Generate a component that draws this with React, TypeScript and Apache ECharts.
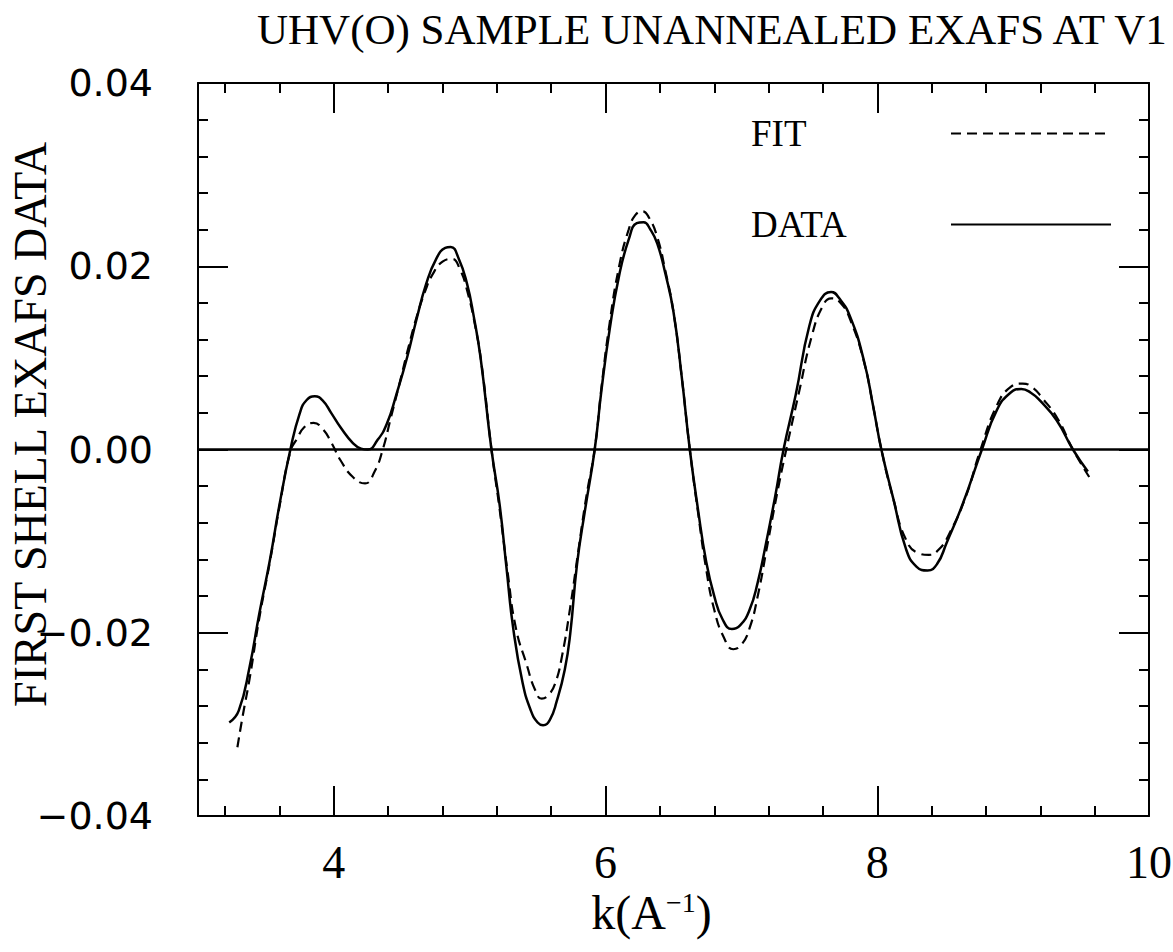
import React, { useEffect, useRef } from "react";
import * as echarts from "echarts";

// ---- data ----
const K_DATA = [3.23, 3.30, 3.38, 3.45, 3.53, 3.60, 3.68, 3.75, 3.80, 3.86, 3.92, 3.98, 4.05, 4.14, 4.20, 4.25, 4.32, 4.39, 4.46, 4.54, 4.61, 4.68, 4.75, 4.82, 4.86, 4.92, 4.98, 5.03, 5.08, 5.16, 5.22, 5.27, 5.32, 5.39, 5.45, 5.50, 5.54, 5.59, 5.64, 5.70, 5.74, 5.79, 5.85, 5.92, 5.97, 6.03, 6.10, 6.17, 6.23, 6.28, 6.33, 6.38, 6.44, 6.50, 6.56, 6.62, 6.68, 6.74, 6.80, 6.86, 6.93, 6.99, 7.06, 7.12, 7.18, 7.25, 7.31, 7.40, 7.50, 7.58, 7.66, 7.72, 7.80, 7.90, 7.97, 8.03, 8.12, 8.21, 8.29, 8.37, 8.44, 8.51, 8.63, 8.77, 8.88, 8.98, 9.06, 9.13, 9.20, 9.32, 9.44, 9.55];
const V_DATA = [-0.0298, -0.0285, -0.0237, -0.0180, -0.0120, -0.0060, 0.0000, 0.0040, 0.0054, 0.0058, 0.0053, 0.0040, 0.0024, 0.0007, 0.0001, 0.0000, 0.0010, 0.0028, 0.0060, 0.0101, 0.0143, 0.0181, 0.0207, 0.0220, 0.0221, 0.0208, 0.0181, 0.0145, 0.0100, 0.0000, -0.0060, -0.0128, -0.0195, -0.0255, -0.0285, -0.0298, -0.0301, -0.0295, -0.0275, -0.0240, -0.0201, -0.0125, -0.0065, 0.0000, 0.0065, 0.0131, 0.0190, 0.0229, 0.0247, 0.0248, 0.0240, 0.0225, 0.0192, 0.0150, 0.0080, 0.0000, -0.0065, -0.0122, -0.0160, -0.0185, -0.0196, -0.0192, -0.0175, -0.0145, -0.0103, -0.0050, 0.0000, 0.0060, 0.0135, 0.0163, 0.0172, 0.0165, 0.0145, 0.0098, 0.0047, 0.0000, -0.0055, -0.0108, -0.0128, -0.0132, -0.0125, -0.0102, -0.0059, 0.0000, 0.0043, 0.0062, 0.0066, 0.0062, 0.0053, 0.0032, 0.0000, -0.0024];

const K_FIT = [3.29, 3.33, 3.38, 3.45, 3.53, 3.60, 3.68, 3.73, 3.78, 3.85, 3.92, 3.98, 4.05, 4.14, 4.23, 4.30, 4.36, 4.42, 4.49, 4.55, 4.61, 4.67, 4.73, 4.80, 4.87, 4.93, 4.98, 5.04, 5.09, 5.16, 5.22, 5.28, 5.34, 5.42, 5.48, 5.53, 5.58, 5.63, 5.68, 5.74, 5.80, 5.86, 5.92, 5.97, 6.03, 6.10, 6.17, 6.22, 6.27, 6.32, 6.38, 6.44, 6.50, 6.56, 6.62, 6.68, 6.74, 6.80, 6.87, 6.94, 7.00, 7.06, 7.12, 7.19, 7.26, 7.33, 7.42, 7.52, 7.60, 7.66, 7.73, 7.80, 7.90, 7.97, 8.03, 8.12, 8.21, 8.30, 8.38, 8.46, 8.53, 8.65, 8.76, 8.88, 8.98, 9.07, 9.14, 9.21, 9.33, 9.44, 9.56];
const V_FIT = [-0.0325, -0.0290, -0.0250, -0.0185, -0.0122, -0.0062, -0.0002, 0.0012, 0.0024, 0.0029, 0.0022, 0.0008, -0.0012, -0.0030, -0.0037, -0.0024, 0.0000, 0.0035, 0.0076, 0.0112, 0.0145, 0.0172, 0.0192, 0.0205, 0.0208, 0.0196, 0.0174, 0.0135, 0.0090, 0.0000, -0.0065, -0.0135, -0.0195, -0.0235, -0.0262, -0.0272, -0.0268, -0.0255, -0.0225, -0.0172, -0.0110, -0.0050, 0.0000, 0.0068, 0.0138, 0.0200, 0.0240, 0.0256, 0.0260, 0.0253, 0.0232, 0.0195, 0.0150, 0.0080, 0.0000, -0.0068, -0.0130, -0.0175, -0.0205, -0.0218, -0.0213, -0.0195, -0.0160, -0.0105, -0.0050, 0.0000, 0.0060, 0.0125, 0.0157, 0.0165, 0.0160, 0.0142, 0.0097, 0.0047, 0.0000, -0.0055, -0.0098, -0.0113, -0.0115, -0.0108, -0.0092, -0.0052, 0.0000, 0.0048, 0.0068, 0.0072, 0.0068, 0.0057, 0.0033, 0.0000, -0.0030];

const X_MAJOR = [4, 6, 8, 10];
const X_MINOR = [3.2, 3.6, 4.4, 4.8, 5.2, 5.6, 6.4, 6.8, 7.2, 7.6, 8.4, 8.8, 9.2, 9.6];
const Y_MAJOR = [-0.04, -0.02, 0, 0.02, 0.04];
const Y_MINOR = [-0.036, -0.032, -0.028, -0.024, -0.016, -0.012, -0.008, -0.004, 0.004, 0.008, 0.012, 0.016, 0.024, 0.028, 0.032, 0.036];

const TITLE = "UHV(O) SAMPLE UNANNEALED EXAFS AT V1";
const Y_NAME = "FIRST SHELL EXAFS DATA";
const SERIES_NAMES = ["FIT", "DATA"];

const SERIF = "'Liberation Serif', 'DejaVu Serif', serif";
const SANS = "'DejaVu Sans', sans-serif";

function zip(a: number[], b: number[]) {
  return a.map((k, i) => [k, b[i]]);
}

export default function App() {
  const ref = useRef<HTMLDivElement>(null);
  useEffect(() => {
    if (!ref.current) return;
    const chart = echarts.init(ref.current, undefined, { renderer: "svg" });
    const black = "#000";
    const tickLine = { color: black, width: 2 };
    const xBase = (pos: string, ticks: number[], len: number, main: boolean) => ({
      type: "value",
      min: 3,
      max: 10,
      position: pos,
      axisLine: { show: main, onZero: false, lineStyle: { color: black, width: 2 } },
      axisTick: { show: true, inside: true, length: len, customValues: ticks, lineStyle: tickLine },
      axisLabel: main && pos === "bottom"
        ? { show: true, customValues: X_MAJOR, margin: 23, color: black, fontFamily: SERIF, fontSize: 46 }
        : { show: false },
      splitLine: { show: false },
    });
    const yBase = (pos: string, ticks: number[], len: number, main: boolean) => ({
      type: "value",
      min: -0.04,
      max: 0.04,
      position: pos,
      axisLine: { show: main, onZero: false, lineStyle: { color: black, width: 2 } },
      axisTick: { show: true, inside: true, length: len, customValues: ticks, lineStyle: tickLine },
      axisLabel: main && pos === "left"
        ? {
            show: true,
            customValues: Y_MAJOR,
            margin: 45,
            color: black,
            fontFamily: SANS,
            fontSize: 38,
            formatter: (v: number) => v.toFixed(2).replace("-", "\u2212"),
          }
        : { show: false },
      splitLine: { show: false },
    });

    const xMain: any = xBase("bottom", X_MAJOR, 30, true);
    xMain.name = "k(A{sup|\u22121})";
    xMain.nameLocation = "middle";
    xMain.nameGap = 72;
    xMain.nameMoveOverlap = false;
    xMain.nameTextStyle = {
      color: black,
      fontFamily: SERIF,
      fontSize: 48,
      padding: [0, 44, 0, 0],
      rich: { sup: { fontFamily: SERIF, fontSize: 28, verticalAlign: "top", padding: [0, 0, 20, 0] } },
    };

    const yMain: any = yBase("left", Y_MAJOR, 30, true);
    yMain.name = Y_NAME;
    yMain.nameLocation = "middle";
    yMain.nameRotate = 90;
    yMain.nameGap = 145;
    yMain.nameMoveOverlap = false;
    yMain.nameTextStyle = { color: black, fontFamily: SERIF, fontSize: 46, padding: [0, 0, 0, 50] };

    const option: any = {
      animation: false,
      backgroundColor: "#fff",
      title: {
        text: TITLE,
        left: 257,
        top: 8,
        padding: 0,
        textStyle: { fontFamily: SERIF, fontSize: 43, fontWeight: "normal", color: black },
      },
      legend: {
        orient: "vertical",
        left: 751,
        top: 115,
        padding: 0,
        align: "right",
        itemWidth: 160,
        itemHeight: 20,
        itemGap: 54,
        selectedMode: false,
        data: SERIES_NAMES,
        itemStyle: { color: "transparent", borderWidth: 0, opacity: 0 },
        formatter: (name: string) => "{t|" + name + "}",
        textStyle: {
          fontFamily: SERIF,
          fontSize: 37,
          color: black,
          rich: { t: { fontFamily: SERIF, fontSize: 37, color: black, width: 195, align: "left" } },
        },
      },
      grid: { left: 198, top: 83, width: 951, height: 733, show: false, outerBoundsMode: "none", containLabel: false },
      xAxis: [
        xMain,
        xBase("bottom", X_MINOR, 10, false),
        xBase("top", X_MAJOR, 30, true),
        xBase("top", X_MINOR, 10, false),
      ],
      yAxis: [
        yMain,
        yBase("left", Y_MINOR, 10, false),
        yBase("right", Y_MAJOR, 30, true),
        yBase("right", Y_MINOR, 10, false),
      ],
      series: [
        {
          name: SERIES_NAMES[0],
          type: "line",
          xAxisIndex: 0,
          yAxisIndex: 0,
          data: zip(K_FIT, V_FIT),
          smooth: true,
          symbol: "none",
          lineStyle: { color: black, width: 2.2, type: [10, 6] },
          itemStyle: { color: black },
        },
        {
          name: SERIES_NAMES[1],
          type: "line",
          xAxisIndex: 0,
          yAxisIndex: 0,
          data: zip(K_DATA, V_DATA),
          smooth: true,
          symbol: "none",
          lineStyle: { color: black, width: 2.5, type: "solid" },
          itemStyle: { color: black },
          markLine: {
            silent: true,
            symbol: "none",
            label: { show: false },
            lineStyle: { color: black, width: 2.5, type: "solid" },
            data: [{ yAxis: 0 }],
          },
        },
      ],
    };
    chart.setOption(option);
    return () => chart.dispose();
  }, []);
  return (
    <div
      ref={ref}
      style={{ position: "absolute", left: 0, top: 0, width: 1173, height: 952, background: "#fff" }}
    />
  );
}
